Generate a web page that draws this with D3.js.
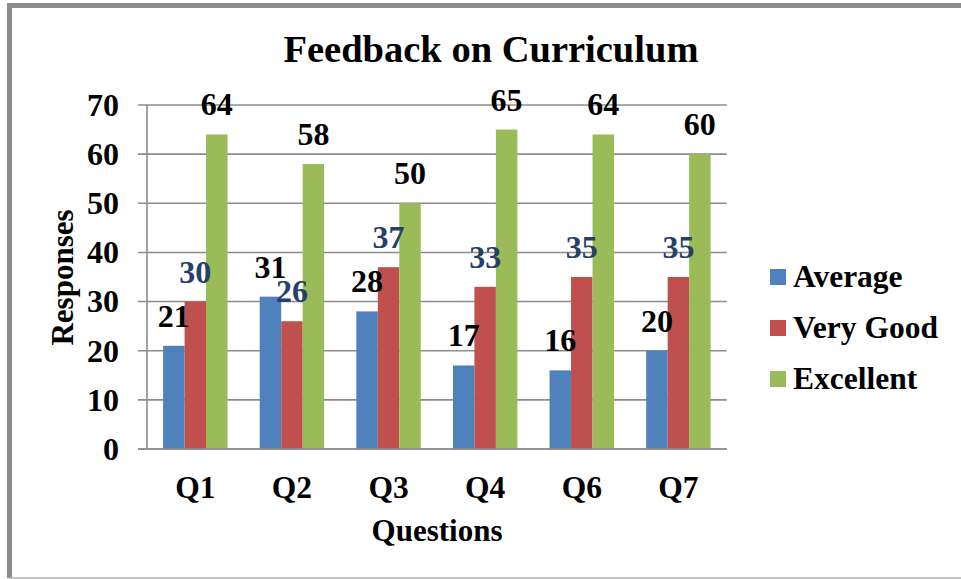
<!DOCTYPE html>
<html>
<head>
<meta charset="utf-8">
<script src="https://cdn.jsdelivr.net/npm/d3@7"></script>
<style>
  html, body { margin: 0; padding: 0; background: #fff; }
  svg { display: block; }
  text { font-family: "Liberation Serif", "Times New Roman", serif; font-weight: bold; }
</style>
</head>
<body>
<svg id="chart" width="961" height="579"></svg>
<script>
// Survey results per question
const questions = ["Q1", "Q2", "Q3", "Q4", "Q6", "Q7"];
const seriesNames = ["Average", "Very Good", "Excellent"];
const average  = [21, 31, 28, 17, 16, 20];
const veryGood = [30, 26, 37, 33, 35, 35];
const excellent = [64, 58, 50, 65, 64, 60];
const yTicks = [0, 10, 20, 30, 40, 50, 60, 70];

const seriesValues = [average, veryGood, excellent];
const colors = ["#4F81BD", "#C0504D", "#9BBB59"];
const labelColors = ["#000000", "#25406A", "#000000"];

const svg = d3.select("#chart");

// outer frame
svg.append("path")
  .attr("d", "M9.5,578 L9.5,5.5 L975,5.5")
  .attr("fill", "none").attr("stroke", "#8c8c8c").attr("stroke-width", 5);
svg.append("line")
  .attr("x1", 9).attr("x2", 961).attr("y1", 578).attr("y2", 578)
  .attr("stroke", "#b0b0b0").attr("stroke-width", 1.5);

const plot = { left: 147, right: 726.7, top: 105, bottom: 449 };

const y = d3.scaleLinear().domain([0, 70]).range([plot.bottom, plot.top]);
const x0 = d3.scaleBand().domain(questions).range([plot.left, plot.right]).padding(0);
const bw = x0.bandwidth();
const x1 = d3.scaleBand().domain(seriesNames).range([bw / 6, bw * 5 / 6]).padding(0);

// gridlines with tick marks
svg.append("g")
  .selectAll("line")
  .data(yTicks)
  .join("line")
  .attr("x1", plot.left - 9).attr("x2", plot.right)
  .attr("y1", d => y(d)).attr("y2", d => y(d))
  .attr("stroke", "#8c8c8c").attr("stroke-width", 1.6);

// y axis line
svg.append("line")
  .attr("x1", plot.left).attr("x2", plot.left)
  .attr("y1", plot.top).attr("y2", plot.bottom)
  .attr("stroke", "#8c8c8c").attr("stroke-width", 1.6);

// y tick labels
svg.append("g")
  .selectAll("text")
  .data(yTicks)
  .join("text")
  .attr("x", 119).attr("y", d => y(d))
  .attr("dy", "0.34em")
  .attr("text-anchor", "end")
  .attr("font-size", 32)
  .text(d => d);

// bars
const groups = svg.append("g")
  .selectAll("g")
  .data(questions)
  .join("g")
  .attr("transform", d => `translate(${x0(d)},0)`);

groups.selectAll("rect")
  .data((q, i) => seriesNames.map((s, k) => ({ s, k, v: seriesValues[k][i] })))
  .join("rect")
  .attr("x", d => x1(d.s))
  .attr("width", x1.bandwidth())
  .attr("y", d => y(d.v))
  .attr("height", d => y(0) - y(d.v))
  .attr("fill", d => colors[d.k]);

// x axis line (drawn over bar bottoms)
svg.append("line")
  .attr("x1", plot.left - 9).attr("x2", plot.right)
  .attr("y1", plot.bottom).attr("y2", plot.bottom)
  .attr("stroke", "#8c8c8c").attr("stroke-width", 1.6);

// value labels
groups.selectAll("text.val")
  .data((q, i) => seriesNames.map((s, k) => ({ s, k, v: seriesValues[k][i] })))
  .join("text")
  .attr("class", "val")
  .attr("x", d => x1(d.s) + x1.bandwidth() / 2)
  .attr("y", d => y(d.v) - 19)
  .attr("text-anchor", "middle")
  .attr("font-size", 32)
  .attr("fill", d => labelColors[d.k])
  .text(d => d.v);

// category labels
svg.append("g")
  .selectAll("text")
  .data(questions)
  .join("text")
  .attr("x", d => x0(d) + bw / 2)
  .attr("y", 498)
  .attr("text-anchor", "middle")
  .attr("font-size", 31.5)
  .text(d => d);

// title
svg.append("text")
  .attr("x", 491).attr("y", 62)
  .attr("text-anchor", "middle")
  .attr("font-size", 38.5)
  .text("Feedback on Curriculum");

// axis titles
svg.append("text")
  .attr("x", 437).attr("y", 541)
  .attr("text-anchor", "middle")
  .attr("font-size", 31)
  .text("Questions");

svg.append("text")
  .attr("transform", "translate(73,277.5) rotate(-90)")
  .attr("text-anchor", "middle")
  .attr("font-size", 31)
  .text("Responses");

// legend
const legend = svg.append("g")
  .selectAll("g")
  .data(seriesNames)
  .join("g")
  .attr("transform", (d, i) => `translate(770,${269 + i * 51})`);

legend.append("rect")
  .attr("width", 16).attr("height", 16)
  .attr("fill", (d, i) => colors[i]);

legend.append("text")
  .attr("x", 23).attr("y", 17.5)
  .attr("font-size", 31.5)
  .text(d => d);
</script>
</body>
</html>
